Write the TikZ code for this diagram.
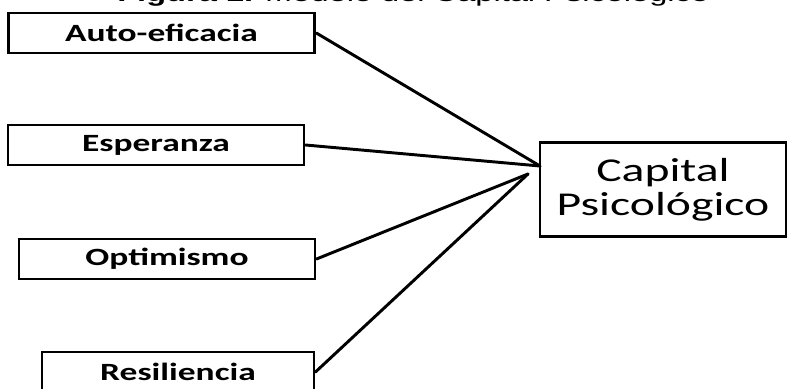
\documentclass[tikz,border=0pt]{standalone}
\usepackage{fontspec}
\setmainfont{Carlito}[FakeStretch=1.43]
\newfontfamily\titlefont{Liberation Sans}[FakeStretch=1.43]
\usetikzlibrary{positioning}

\begin{document}
\begin{tikzpicture}[x=0.75pt,y=-0.75pt]
\useasboundingbox (0,0) rectangle (789,389);
\node (T) [anchor=base west,inner sep=0pt] at (117,1.2)
    {\titlefont\fontsize{17.1}{18}\selectfont\textbf{Figura 1.} Modelo del Capital Psicológico};
\begin{scope}[every node/.style={rectangle,draw,line width=2.2pt,inner sep=0pt,
              font=\bfseries\fontsize{18.6}{20}\selectfont,minimum height=30pt}]
    \node (A) [minimum width=230pt] at (161.5,33) {Auto-eficacia};
    \node (E) [minimum width=222pt] at (156,145) {Esperanza};
    \node (O) [minimum width=222pt] at (167,259) {Optimismo};
    \node (R) [minimum width=204pt] at (178,372) {Resiliencia};
\end{scope}
\node (C) [rectangle,draw,line width=2.2pt,inner sep=0pt,align=center,
           minimum width=184.5pt,minimum height=71pt,
           font=\fontsize{25}{25.5}\selectfont] at (663,189.5) {Capital\\Psicológico};
\coordinate (H1) at (540,166);
\coordinate (H2) at (528,174);
\begin{scope}[every edge/.style={draw,line width=2.2pt,line cap=round}]
    \path (A.east) edge (H1);
    \path (E.east) edge (H1);
    \path (O.east) edge (H2);
    \path (R.east) edge (H2);
\end{scope}
\end{tikzpicture}
\end{document}
